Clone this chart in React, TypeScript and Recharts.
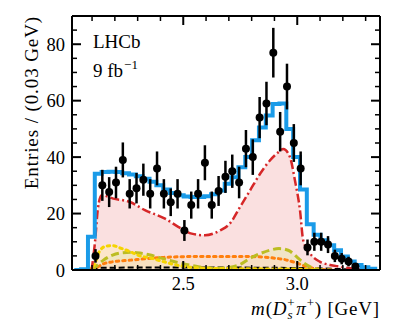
import React from 'react';
import { ComposedChart, Line, Area, Scatter, ErrorBar, XAxis, YAxis } from 'recharts';

// data points: bin centres (GeV), entries, uncertainties
const binCentres = [2.115, 2.145, 2.175, 2.205, 2.235, 2.265, 2.295, 2.325, 2.355, 2.385, 2.415, 2.445, 2.475, 2.505, 2.535, 2.565, 2.595, 2.625, 2.655, 2.685, 2.715, 2.745, 2.775, 2.805, 2.835, 2.865, 2.895, 2.925, 2.955, 2.985, 3.015, 3.045, 3.075, 3.105, 3.135, 3.165, 3.195, 3.225, 3.255];
const entries = [5, 30, 27.6, 31, 39, 27, 29, 32, 27, 36, 27, 24, 27, 14, 23, 27, 38, 23, 28, 33, 35, 31, 43, 40, 54, 59, 77, 49, 65, 45, 36, 8, 10, 10, 9, 5, 4, 3, 1.2];
const errors = [2.4, 5.5, 5.3, 5.6, 6.2, 5.2, 5.4, 5.7, 5.2, 6, 5.2, 4.9, 5.2, 3.7, 4.8, 5.2, 6.2, 4.8, 5.3, 5.7, 5.9, 5.6, 6.6, 6.3, 7.3, 7.7, 8.8, 7, 8.1, 6.7, 6, 2.8, 3.2, 3.2, 3, 2.2, 2, 1.7, 1.1];

// total fit, binned (left edges)
const fitEdges = [2.022, 2.052, 2.082, 2.112, 2.142, 2.172, 2.202, 2.232, 2.262, 2.292, 2.322, 2.352, 2.382, 2.412, 2.442, 2.472, 2.502, 2.532, 2.562, 2.592, 2.622, 2.652, 2.682, 2.712, 2.742, 2.772, 2.802, 2.832, 2.862, 2.892, 2.922, 2.952, 2.982, 3.012, 3.042, 3.072, 3.102, 3.132, 3.162, 3.192, 3.222, 3.252, 3.282, 3.312, 3.342];
const fitTotal = [0, 0.3, 11.8, 34.1, 34.7, 34.8, 34.7, 34.3, 33.8, 33.2, 32.3, 31.3, 30, 28.5, 27.3, 26.5, 26, 25.9, 25.9, 26.1, 26.8, 28.2, 30.6, 32.9, 36.4, 40, 46, 50.5, 54.7, 58.8, 59, 50, 40, 28.5, 16.2, 12.5, 10.5, 8.8, 7, 4.8, 3, 1.8, 1, 0.4, 0];

// fit components
const sigM = [2.098, 2.113, 2.126, 2.142, 2.193, 2.266, 2.332, 2.42, 2.478, 2.537, 2.595, 2.661, 2.705, 2.749, 2.793, 2.837, 2.88, 2.917, 2.939, 2.968, 2.99, 3.012, 3.026, 3.056, 3.1, 3.144, 3.187, 3.231, 3.297];
const sigV = [0, 10, 22, 26.5, 25.3, 24.1, 21.2, 18.2, 15.3, 12.9, 12.3, 14, 16.5, 22.3, 28.2, 34.1, 38.8, 41.7, 42.9, 40, 31.7, 21.2, 10.6, 5.9, 2.9, 1.8, 1.2, 0.6, 0.2];

const yelM = [2.082, 2.113, 2.135, 2.164, 2.193, 2.223, 2.252, 2.281, 2.31, 2.354, 2.398, 2.442, 2.486, 2.53, 2.617, 2.837, 3.012, 3.1];
const yelV = [0, 2.4, 7, 8.5, 8.6, 7.8, 7, 6, 5, 4.3, 3.3, 2.3, 1.5, 1, 0.6, 0.4, 0.3, 0];

const orgM = [2.1, 2.12, 2.15, 2.19, 2.27, 2.35, 2.45, 2.6, 2.75, 2.85, 2.9, 2.95, 3.0, 3.05, 3.1, 3.15];
const orgV = [0, 0.8, 2.2, 2.9, 3.5, 4.1, 4.6, 4.8, 4.8, 4.6, 4.2, 3.6, 2.4, 1, 0.3, 0];

const grnM = [2.1, 2.12, 2.15, 2.19, 2.23, 2.27, 2.31, 2.35, 2.4, 2.45, 2.5, 2.55, 2.6, 2.65, 2.7, 2.75, 2.79, 2.84, 2.88, 2.92, 2.96, 3.0, 3.03, 3.06, 3.1, 3.15];
const grnV = [0, 1.5, 3.5, 5.3, 6.1, 6.3, 6, 5.4, 4.3, 3.2, 2.2, 1.4, 0.8, 0.6, 0.9, 2, 4, 5.9, 7, 7.6, 7, 4.5, 2.4, 1, 0.2, 0];

const blkM = [2.1, 2.13, 2.5, 3.0, 3.2, 3.3];
const blkV = [0, 0.8, 0.9, 0.7, 0.3, 0];

const xTicks = [2.1, 2.2, 2.3, 2.4, 2.5, 2.6, 2.7, 2.8, 2.9, 3.0, 3.1, 3.2, 3.3];
const xMajor = [2.5, 3.0];
const yTicks = [0, 5, 10, 15, 20, 25, 30, 35, 40, 45, 50, 55, 60, 65, 70, 75, 80, 85];

const points = binCentres.map((m, i) => ({ m, v: entries[i], err: errors[i] }));
const fitHist = fitEdges.map((m, i) => ({ m, v: fitTotal[i] }));
const toSeries = (ms: number[], vs: number[]) => ms.map((m, i) => ({ m, v: vs[i] }));
const sig = toSeries(sigM, sigV);
const yel = toSeries(yelM, yelV);
const org = toSeries(orgM, orgV);
const grn = toSeries(grnM, grnV);
const blk = toSeries(blkM, blkV);

const FONT = '"Liberation Serif", "DejaVu Serif", serif';
const isMajorX = (v: number) => xMajor.some((t) => Math.abs(t - v) < 1e-6);

const BottomTick = ({ x, y, payload }: any) => {
  const major = isMajorX(payload.value);
  return (
    <g>
      <line x1={x} x2={x} y1={y} y2={y - (major ? 9 : 5)} stroke="#000" strokeWidth={major ? 2 : 1.5} />
      {major && (
        <text x={x} y={y + 20} textAnchor="middle" fontSize={18.5} fontFamily={FONT} fill="#000">
          {payload.value.toFixed(1)}
        </text>
      )}
    </g>
  );
};
const TopTick = ({ x, y, payload }: any) => {
  const major = isMajorX(payload.value);
  return <line x1={x} x2={x} y1={y} y2={y + (major ? 9 : 5)} stroke="#000" strokeWidth={major ? 2 : 1.5} />;
};
const LeftTick = ({ x, y, payload }: any) => {
  const major = payload.value % 20 === 0;
  return (
    <g>
      <line x1={x} x2={x + (major ? 9 : 5)} y1={y} y2={y} stroke="#000" strokeWidth={major ? 2 : 1.5} />
      {major && (
        <text x={x - 7} y={y + 6.5} textAnchor="end" fontSize={18.5} fontFamily={FONT} fill="#000">
          {payload.value}
        </text>
      )}
    </g>
  );
};
const RightTick = ({ x, y, payload }: any) => {
  const major = payload.value % 20 === 0;
  return <line x1={x} x2={x - (major ? 9 : 5)} y1={y} y2={y} stroke="#000" strokeWidth={major ? 2 : 1.5} />;
};

const Dot = (p: any) => <circle cx={p.cx} cy={p.cy} r={4} fill="#000" />;

export default function App() {
  const dom: [number, number] = [2.012, 3.363];
  const axisLine = { stroke: '#000', strokeWidth: 2 };
  return (
    <div style={{ position: 'absolute', left: 0, top: 0, width: 399, height: 322, background: '#fff' }}>
      <ComposedChart width={399} height={322} margin={{ top: 15, right: 18, bottom: 51, left: 71 }}>
        <XAxis xAxisId="b" dataKey="m" type="number" domain={dom} allowDataOverflow ticks={xTicks} interval={0}
          height={1} tickSize={0} tickMargin={0} tick={<BottomTick />} axisLine={axisLine} tickLine={false} />
        <XAxis xAxisId="t" orientation="top" dataKey="m" type="number" domain={dom} allowDataOverflow ticks={xTicks} interval={0}
          height={1} tickSize={0} tickMargin={0} tick={<TopTick />} axisLine={axisLine} tickLine={false} />
        <YAxis yAxisId="l" type="number" domain={[0, 90]} allowDataOverflow ticks={yTicks} interval={0}
          width={1} tickSize={0} tickMargin={0} tick={<LeftTick />} axisLine={axisLine} tickLine={false} />
        <YAxis yAxisId="r" orientation="right" type="number" domain={[0, 90]} allowDataOverflow ticks={yTicks} interval={0}
          width={1} tickSize={0} tickMargin={0} tick={<RightTick />} axisLine={axisLine} tickLine={false} />

        <Area xAxisId="b" yAxisId="l" data={sig} dataKey="v" type="monotone" stroke="none" fill="#fae0e0" fillOpacity={1} isAnimationActive={false} />
        <Area xAxisId="b" yAxisId="l" data={yel} dataKey="v" type="monotone" stroke="none" fill="#fbe6c6" fillOpacity={0.85} isAnimationActive={false} />
        <Area xAxisId="b" yAxisId="l" data={grn} dataKey="v" type="monotone" stroke="none" fill="#ece6bc" fillOpacity={0.7} isAnimationActive={false} />
        <Area xAxisId="b" yAxisId="l" data={org} dataKey="v" type="monotone" stroke="none" fill="#fcdcc0" fillOpacity={0.6} isAnimationActive={false} />

        <Line xAxisId="b" yAxisId="l" data={blk} dataKey="v" type="monotone" stroke="#000" strokeWidth={2} strokeDasharray="6 3" dot={false} isAnimationActive={false} />
        <Line xAxisId="b" yAxisId="l" data={org} dataKey="v" type="monotone" stroke="#ff7f0e" strokeWidth={3} strokeDasharray="2.5 4" strokeLinecap="round" dot={false} isAnimationActive={false} />
        <Line xAxisId="b" yAxisId="l" data={grn} dataKey="v" type="monotone" stroke="#bcbd22" strokeWidth={3} strokeDasharray="8 4" dot={false} isAnimationActive={false} />
        <Line xAxisId="b" yAxisId="l" data={yel} dataKey="v" type="monotone" stroke="#f5d400" strokeWidth={3} strokeDasharray="2.5 4" strokeLinecap="round" dot={false} isAnimationActive={false} />
        <Line xAxisId="b" yAxisId="l" data={sig} dataKey="v" type="monotone" stroke="#d62728" strokeWidth={2.5} strokeDasharray="9 3 2 3" dot={false} isAnimationActive={false} />

        <Line xAxisId="b" yAxisId="l" data={fitHist} dataKey="v" type="stepAfter" stroke="#1a9be8" strokeWidth={4} dot={false} isAnimationActive={false} />

        <Scatter xAxisId="b" yAxisId="l" data={points} dataKey="v" shape={<Dot />} isAnimationActive={false}>
          <ErrorBar dataKey="err" direction="y" width={0} strokeWidth={2.5} stroke="#000" />
        </Scatter>
      </ComposedChart>

      <svg width={399} height={322} style={{ position: 'absolute', left: 0, top: 0, pointerEvents: 'none' }} fontFamily={FONT}>
        <text x={93} y={48} fontSize={19}>LHCb</text>
        <text x={93} y={77} fontSize={19}>
          9 fb<tspan fontSize={13} dy={-8} dx={1}>−1</tspan>
        </text>
        <text x={31} y={16} fontSize={19} letterSpacing={0.9} textAnchor="end" transform="rotate(-90, 31, 16)" dominantBaseline="central">
          Entries / (0.03 GeV)
        </text>
        <text x={380} y={315} fontSize={19} letterSpacing={0.8} textAnchor="end">
          <tspan fontStyle="italic">m</tspan>(<tspan fontStyle="italic">D</tspan>
          <tspan fontSize={13} dy={-8}>+</tspan>
          <tspan fontSize={13} fontStyle="italic" dx={-8} dy={12}>s</tspan>
          <tspan fontStyle="italic" dx={3} dy={-4}>π</tspan>
          <tspan fontSize={13} dy={-8}>+</tspan>
          <tspan dy={8}>) [GeV]</tspan>
        </text>
      </svg>
    </div>
  );
}
